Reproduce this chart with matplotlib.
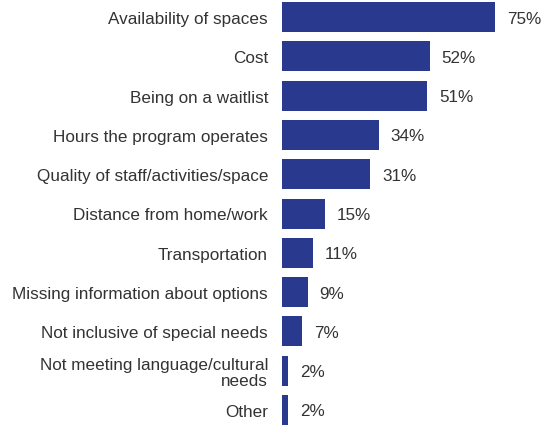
import matplotlib
matplotlib.use("Agg")
import matplotlib.pyplot as plt

categories = ["Availability of spaces", "Cost", "Being on a waitlist",
              "Hours the program operates", "Quality of staff/activities/space",
              "Distance from home/work", "Transportation",
              "Missing information about options", "Not inclusive of special needs",
              "Not meeting language/cultural\nneeds", "Other"]
values = [75, 52, 51, 34, 31, 15, 11, 9, 7, 2, 2]
value_labels = [f"{v}%" for v in values]

plt.rcParams['font.family'] = ['Liberation Sans', 'DejaVu Sans']

W, H = 550, 427
fig = plt.figure(figsize=(W / 100, H / 100), dpi=100)
px_per_pct = 213 / 75
xmax = 90
ax = fig.add_axes([282 / W, 0, px_per_pct * xmax / W, 1])
ypos = list(range(len(categories)))
ax.barh(ypos, values, height=30 / 39.3, color='#293a8e')
ax.set_xlim(0, xmax)
ax.set_ylim((427 - 18) / 39.3, -18 / 39.3)
ax.set_yticks(ypos)
ax.set_yticklabels(categories, fontsize=12.3, color='#333333')
for t in ax.get_yticklabels():
    t.set_linespacing(1.05)
ax.tick_params(axis='y', length=0, pad=10)
ax.set_xticks([])
for s in ax.spines.values():
    s.set_visible(False)
for y, v, lab in zip(ypos, values, value_labels):
    ax.annotate(lab, (v, y), xytext=(12, -1), textcoords='offset pixels',
                va='center', ha='left', fontsize=12.3, color='#333333')
fig.savefig("out.png", dpi=100)
